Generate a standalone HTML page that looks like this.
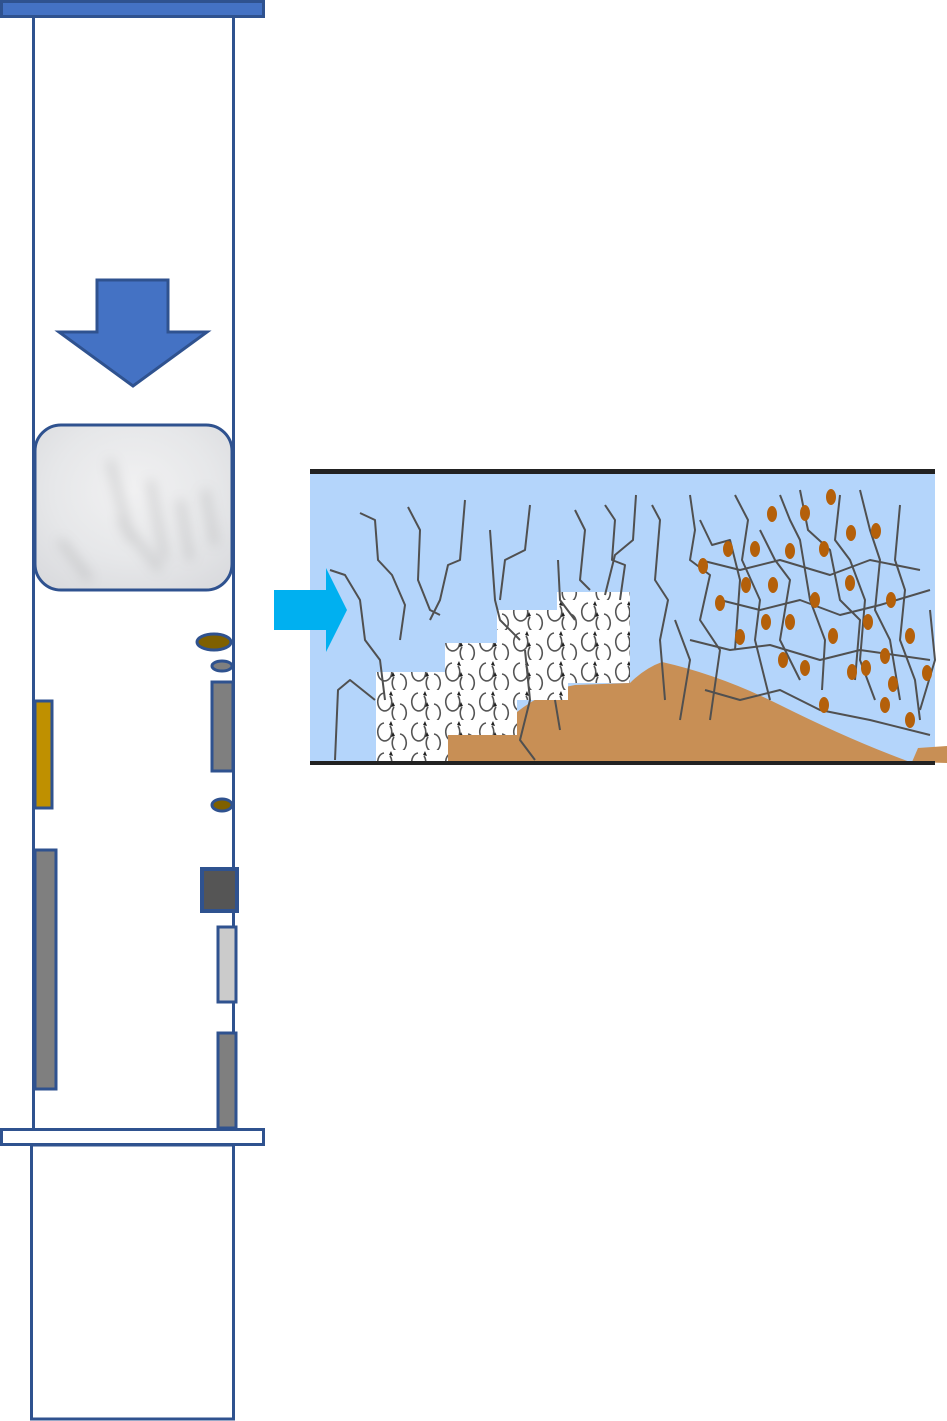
<!DOCTYPE html>
<html><head><meta charset="utf-8"><style>html,body{margin:0;padding:0;background:#fff}svg{display:block}</style></head>
<body>
<svg width="947" height="1421" viewBox="0 0 947 1421" xmlns="http://www.w3.org/2000/svg">
<defs>
<radialGradient id="tex" cx="50%" cy="40%" r="70%">
<stop offset="0" stop-color="#f1f1f2"/><stop offset="0.6" stop-color="#e6e7e9"/><stop offset="1" stop-color="#dadbde"/></radialGradient>
<filter id="blur"><feGaussianBlur stdDeviation="6"/></filter>
<pattern id="swirl" width="34" height="30" patternUnits="userSpaceOnUse">
<rect width="34" height="30" fill="#fff"/>
<path d="M10 3 a7 9 0 1 0 6 3" fill="none" stroke="#555" stroke-width="1.6"/>
<path d="M26 14 a7 9 0 1 1 -6 3" fill="none" stroke="#555" stroke-width="1.6"/>
<path d="M15 5 l2 -4 l2 5z M21 16 l-2 -4 l-2 5z" fill="#222"/>
</pattern>
</defs>

<rect x="1.5" y="1.5" width="262" height="15" fill="#4472c4" stroke="#2f528f" stroke-width="3"/>
<line x1="33.5" y1="17" x2="33.5" y2="1130" stroke="#2f528f" stroke-width="3"/>
<line x1="233.5" y1="17" x2="233.5" y2="1130" stroke="#2f528f" stroke-width="3"/>
<rect x="31.5" y="1145" width="202" height="274" fill="#fff" stroke="#2f528f" stroke-width="3"/>
<rect x="1.5" y="1129.5" width="262" height="15" fill="#fff" stroke="#2f528f" stroke-width="3"/>

<polygon points="97,280 168,280 168,332 207,332 133,386 59,332 97,332" fill="#4472c4" stroke="#2f528f" stroke-width="3"/>

<rect x="35" y="425" width="197" height="165" rx="26" fill="url(#tex)" stroke="#2f528f" stroke-width="3"/>
<g opacity="0.35" filter="url(#blur)">
<path d="M110 460 L130 540 M150 480 L165 560 M205 490 L215 545 M60 540 L90 580 M120 520 L160 570 M180 500 L190 560" stroke="#888" stroke-width="6"/>
</g>

<ellipse cx="214" cy="642" rx="17" ry="8" fill="#7f6000" stroke="#2f528f" stroke-width="3"/>
<ellipse cx="222" cy="666" rx="10" ry="5" fill="#7f7f7f" stroke="#2f528f" stroke-width="3"/>
<rect x="212" y="682" width="21" height="89" fill="#7f7f7f" stroke="#2f528f" stroke-width="3"/>
<rect x="35" y="701" width="17" height="107" fill="#bf9000" stroke="#2f528f" stroke-width="3"/>
<ellipse cx="222" cy="805" rx="10" ry="6" fill="#7f6000" stroke="#2f528f" stroke-width="3"/>
<rect x="35" y="850" width="21" height="239" fill="#7f7f7f" stroke="#2f528f" stroke-width="3"/>
<rect x="202" y="869" width="35" height="42" fill="#555" stroke="#2f528f" stroke-width="4"/>
<rect x="218" y="927" width="18" height="75" fill="#cbcbcb" stroke="#2f528f" stroke-width="3"/>
<rect x="218" y="1033" width="18" height="95" fill="#7f7f7f" stroke="#2f528f" stroke-width="3"/>

<rect x="310" y="474" width="625" height="288" fill="#b4d5fb"/>
<path d="M448 763 L448 735 L517 735 L517 712 Q545 690 575 685 L630 683 Q645 668 662 662 Q720 675 780 705 Q850 740 910 762 L910 763Z" fill="#c88f55"/>
<path d="M912 762 L918 748 L947 746 L947 763Z" fill="#c88f55"/>
<rect x="376" y="672" width="72" height="91" fill="url(#swirl)"/>
<rect x="445" y="643" width="72" height="92" fill="url(#swirl)"/>
<rect x="497" y="610" width="71" height="90" fill="url(#swirl)"/>
<rect x="557" y="592" width="73" height="91" fill="url(#swirl)"/>

<g fill="none" stroke="#505050" stroke-width="2" stroke-linejoin="round">
<path d="M360 513 L375 520 L378 560 L392 575 L405 605 L400 640"/>
<path d="M408 507 L420 530 L418 580 L430 610 L440 615"/>
<path d="M465 500 L460 560 L448 565 L440 600 L430 620"/>
<path d="M490 530 L495 600 L500 620 L520 640"/>
<path d="M530 505 L525 550 L505 560 L500 600"/>
<path d="M330 570 L345 575 L360 600 L365 640 L380 660 L385 700"/>
<path d="M335 760 L338 690 L350 680 L375 700"/>
<path d="M575 510 L585 530 L580 580 L590 590"/>
<path d="M605 505 L615 520 L612 560 L625 565 L620 600"/>
<path d="M636 495 L633 540 L615 555 L605 595"/>
<path d="M558 560 L560 600 L575 620 M555 700 L560 730"/>
<path d="M652 505 L660 520 L655 580 L668 600 L660 640 L665 700"/>
<path d="M690 495 L695 530 L690 560 L710 575 L700 620 L720 650 L710 720"/>
<path d="M700 520 L712 545 L730 540 L740 580 L735 650"/>
<path d="M735 495 L748 520 L742 560 L760 600 L755 640 L770 700"/>
<path d="M760 530 L775 560 L790 580 L780 640 L800 680"/>
<path d="M780 495 L790 520 L800 540 L810 600 L825 640 L822 690"/>
<path d="M800 490 L808 530 L830 550 L840 600 L860 620 L855 680"/>
<path d="M840 495 L835 540 L850 560 L865 600 L860 660 L875 700"/>
<path d="M860 490 L870 530 L880 560 L875 610 L890 640 L900 700"/>
<path d="M900 505 L895 560 L905 590 L900 640 L915 680 L920 720"/>
<path d="M720 600 L760 610 L800 600 L840 615 L880 605 L930 590"/>
<path d="M700 560 L740 570 L780 560 L830 575 L870 560 L920 570"/>
<path d="M690 640 L730 650 L770 645 L820 660 L860 650 L930 660"/>
<path d="M705 690 L740 700 L780 690 L820 710 L870 720 L930 735"/>
<path d="M675 620 L690 660 L680 720"/>
<path d="M930 610 L935 660 L920 710"/>
<path d="M525 650 L530 700 L520 740 L535 760"/>
</g>

<g fill="#b4600a">
<ellipse cx="772" cy="514" rx="5" ry="8"/><ellipse cx="805" cy="513" rx="5" ry="8"/><ellipse cx="831" cy="497" rx="5" ry="8"/>
<ellipse cx="851" cy="533" rx="5" ry="8"/><ellipse cx="876" cy="531" rx="5" ry="8"/><ellipse cx="728" cy="549" rx="5" ry="8"/>
<ellipse cx="755" cy="549" rx="5" ry="8"/><ellipse cx="790" cy="551" rx="5" ry="8"/><ellipse cx="824" cy="549" rx="5" ry="8"/>
<ellipse cx="703" cy="566" rx="5" ry="8"/><ellipse cx="746" cy="585" rx="5" ry="8"/><ellipse cx="773" cy="585" rx="5" ry="8"/>
<ellipse cx="720" cy="603" rx="5" ry="8"/><ellipse cx="850" cy="583" rx="5" ry="8"/><ellipse cx="815" cy="600" rx="5" ry="8"/>
<ellipse cx="891" cy="600" rx="5" ry="8"/><ellipse cx="740" cy="637" rx="5" ry="8"/><ellipse cx="766" cy="622" rx="5" ry="8"/>
<ellipse cx="790" cy="622" rx="5" ry="8"/><ellipse cx="833" cy="636" rx="5" ry="8"/><ellipse cx="868" cy="622" rx="5" ry="8"/>
<ellipse cx="910" cy="636" rx="5" ry="8"/><ellipse cx="783" cy="660" rx="5" ry="8"/><ellipse cx="805" cy="668" rx="5" ry="8"/>
<ellipse cx="852" cy="672" rx="5" ry="8"/><ellipse cx="866" cy="668" rx="5" ry="8"/><ellipse cx="885" cy="656" rx="5" ry="8"/>
<ellipse cx="893" cy="684" rx="5" ry="8"/><ellipse cx="927" cy="673" rx="5" ry="8"/><ellipse cx="824" cy="705" rx="5" ry="8"/>
<ellipse cx="885" cy="705" rx="5" ry="8"/><ellipse cx="910" cy="720" rx="5" ry="8"/>
</g>

<rect x="310" y="469" width="625" height="5" fill="#222"/>
<rect x="310" y="761" width="625" height="4" fill="#222"/>

<polygon points="274,590 326,590 326,568 347,610 326,652 326,630 274,630" fill="#00b0f0"/>
</svg>
</body></html>
